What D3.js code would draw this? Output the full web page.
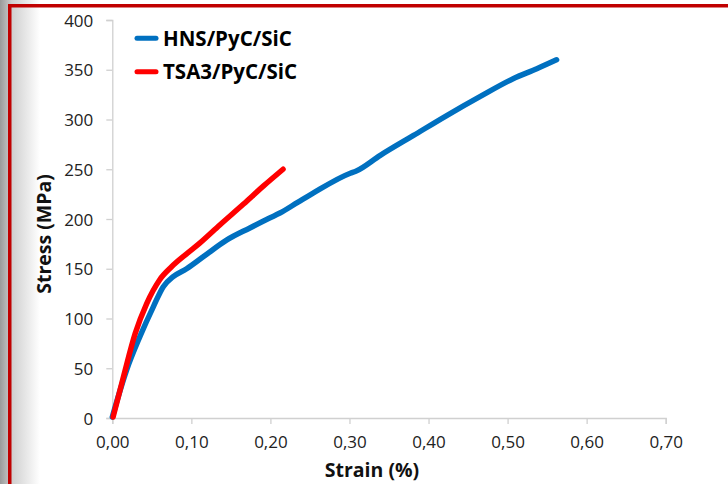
<!DOCTYPE html>
<html>
<head>
<meta charset="utf-8">
<script src="https://cdn.jsdelivr.net/npm/d3@7"></script>
<style>
  body { margin:0; background:#fff; }
  svg { display:block; }
  .tick text { font-family:"Open Sans", sans-serif; font-size:17px; fill:#222; }
</style>
</head>
<body>
<div id="chart"></div>
<script>
// strain (%) and stress (MPa)
var hnsStrain = [0.000, 0.018, 0.035, 0.052, 0.0645, 0.077, 0.094, 0.115, 0.145, 0.174, 0.199, 0.212, 0.235, 0.254, 0.301, 0.308, 0.339, 0.381, 0.423, 0.465, 0.507, 0.537, 0.562];
var hnsStress = [1, 48, 82, 112, 132, 142, 150, 162, 179, 191, 201, 206, 217, 226, 246, 248, 264, 284, 304, 323, 341, 351, 360];
var tsaStrain = [0.001, 0.014, 0.029, 0.0435, 0.060, 0.075, 0.094, 0.111, 0.136, 0.166, 0.191, 0.216];
var tsaStress = [1, 41, 85, 115, 139, 152, 165, 176, 194, 215, 233, 250];
var seriesNames = ["HNS/PyC/SiC", "TSA3/PyC/SiC"];
var seriesColors = ["#0070C0", "#FF0000"];
var xTicks = [0, 0.1, 0.2, 0.3, 0.4, 0.5, 0.6, 0.7];
var yTicks = [0, 50, 100, 150, 200, 250, 300, 350, 400];

var W = 728, H = 484;
var svg = d3.select("#chart").append("svg").attr("width", W).attr("height", H);

// slide shadow + red frame
var defs = svg.append("defs");
var grad = defs.append("linearGradient").attr("id", "shade").attr("x1", 0).attr("x2", 1);
grad.append("stop").attr("offset", 0).attr("stop-color", "#9a9a9a");
grad.append("stop").attr("offset", 0.3).attr("stop-color", "#cfcfcf");
grad.append("stop").attr("offset", 1).attr("stop-color", "#fff");
svg.append("rect").attr("x", 0).attr("y", 0).attr("width", 40).attr("height", H).attr("fill", "url(#shade)");
svg.append("rect").attr("x", 8).attr("y", 4).attr("width", W).attr("height", 3.5).attr("fill", "#C00000");
svg.append("rect").attr("x", 8).attr("y", 4).attr("width", 3.5).attr("height", H).attr("fill", "#C00000");

var x = d3.scaleLinear().domain([0, 0.7]).range([112.3, 665.7]);
var y = d3.scaleLinear().domain([0, 400]).range([418, 20]);
var fmt = function (d) { return d3.format(".2f")(d).replace(".", ","); };

var xAxis = svg.append("g").attr("transform", "translate(0,418)")
  .call(d3.axisBottom(x).tickValues(xTicks).tickFormat(fmt).tickSize(6).tickPadding(12));
var yAxis = svg.append("g").attr("transform", "translate(112.3,0)")
  .call(d3.axisLeft(y).tickValues(yTicks).tickSize(6).tickPadding(13));
[xAxis, yAxis].forEach(function (a) {
  a.select(".domain").attr("stroke", "#d0d0d0").attr("stroke-width", 1.3);
  a.selectAll(".tick line").attr("stroke", "#d0d0d0").attr("stroke-width", 1.3);
});
yAxis.selectAll(".tick text").attr("dy", "0.36em");

svg.append("text").attr("x", 372).attr("y", 477).attr("text-anchor", "middle")
  .style("font-family", "Open Sans, sans-serif").style("font-weight", "bold").style("font-size", "19.5px").style("fill", "#111")
  .text("Strain (%)");
svg.append("text").attr("transform", "translate(51,234) rotate(-90)").attr("text-anchor", "middle")
  .style("font-family", "Open Sans, sans-serif").style("font-weight", "bold").style("font-size", "19.5px").style("fill", "#111")
  .text("Stress (MPa)");

var line = d3.line().x(function (d) { return x(d[0]); }).y(function (d) { return y(d[1]); }).curve(d3.curveMonotoneX);
var data = [d3.zip(hnsStrain, hnsStress), d3.zip(tsaStrain, tsaStress)];
data.forEach(function (pts, i) {
  svg.append("path").datum(pts).attr("d", line).attr("fill", "none")
    .attr("stroke", seriesColors[i]).attr("stroke-width", 5.5).attr("stroke-linecap", "round").attr("stroke-linejoin", "round");
});

// legend
var leg = svg.append("g");
seriesNames.forEach(function (n, i) {
  var ly = 38.3 + i * 33.4;
  leg.append("line").attr("x1", 137).attr("x2", 156).attr("y1", ly).attr("y2", ly)
    .attr("stroke", seriesColors[i]).attr("stroke-width", 5).attr("stroke-linecap", "round");
  leg.append("text").attr("x", 163).attr("y", ly).attr("dy", "0.36em")
    .style("font-family", "Open Sans, sans-serif").style("font-weight", "bold").style("font-size", "20.5px").style("fill", "#000")
    .text(n);
});
</script>
</body>
</html>
